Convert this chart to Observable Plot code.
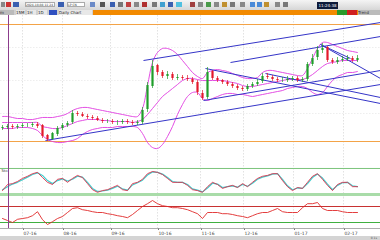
<!DOCTYPE html>
<html><head><meta charset="utf-8">
<script src="https://cdn.jsdelivr.net/npm/d3@7"></script>
<script src="https://cdn.jsdelivr.net/npm/@observablehq/plot@0.6"></script>
<style>
body{margin:0;width:380px;height:240px;overflow:hidden;background:#fff;font-family:"DejaVu Sans",sans-serif;}
#tb{position:relative;height:10px;background:linear-gradient(#f4f4f4,#d6d6d6);overflow:hidden}
#tb span,#tabs span{position:absolute;display:block;font-size:4px;line-height:5px;white-space:nowrap}
#tabs{position:relative;height:5px;background:#d0d0d0;overflow:hidden}
#plots svg{display:block}
#foot{height:4px;background:#d4d4d4;position:relative}
</style></head><body>
<div id="tb">
  <span style="left:1px;top:2px;width:4px;height:5px;background:#888"></span>
  <span style="left:6px;top:2px;width:5px;height:5px;background:#c33"></span>
  <span style="left:13px;top:2px;width:6px;height:5px;background:#3a5fb0"></span>
  <span style="left:25px;top:2px;width:30px;height:5px;background:#fff;border:1px solid #aaa;box-sizing:border-box;color:#333;font-size:3px;line-height:4px">2024-10-08 11:24</span>
  <span style="left:58px;top:2px;width:6px;height:5px;background:#3a5fb0"></span>
  <span style="left:67px;top:2px;width:18px;height:5px;background:#fff;border:1px solid #aaa;box-sizing:border-box;color:#333;font-size:3px;line-height:4px">LP CN</span>
  <span style="left:90px;top:2px;width:5px;height:5px;background:#6a8ac8"></span>
  <span style="left:100px;top:2px;width:5px;height:5px;background:#555"></span>
  <span style="left:110px;top:2px;width:5px;height:5px;background:#3a5fb0"></span>
  <span style="left:118px;top:2px;width:5px;height:5px;background:#777"></span>
  <span style="left:126px;top:2px;width:5px;height:5px;background:#c04040"></span>
  <span style="left:134px;top:2px;width:5px;height:5px;background:#888"></span>
  <span style="left:142px;top:2px;width:5px;height:5px;background:#b03030"></span>
  <span style="left:152px;top:2px;width:5px;height:5px;background:#777"></span>
  <span style="left:160px;top:2px;width:5px;height:5px;background:#40a0d0"></span>
  <span style="left:168px;top:2px;width:5px;height:5px;background:#3a5fb0"></span>
  <span style="left:176px;top:2px;width:6px;height:5px;background:#50c0e0"></span>
  <span style="left:190px;top:2px;width:5px;height:5px;background:#a04040"></span>
  <span style="left:198px;top:2px;width:5px;height:5px;background:#888"></span>
  <span style="left:206px;top:2px;width:5px;height:5px;background:#4a9a4a"></span>
  <span style="left:214px;top:2px;width:5px;height:5px;background:#888"></span>
  <span style="left:222px;top:2px;width:5px;height:5px;background:#c09030"></span>
  <span style="left:230px;top:2px;width:5px;height:5px;background:#777"></span>
  <span style="left:240px;top:2px;width:5px;height:5px;background:#888"></span>
  <span style="left:250px;top:2px;width:5px;height:5px;background:#4a8ad8"></span>
  <span style="left:257px;top:2px;width:5px;height:5px;background:#4a8ad8"></span>
  <span style="left:264px;top:2px;width:5px;height:5px;background:#c09030"></span>
  <span style="left:275px;top:2px;width:5px;height:5px;background:#888"></span>
  <span style="left:283px;top:2px;width:5px;height:5px;background:#777"></span>
  <span style="left:317px;top:2px;width:21px;height:7px;background:#0e1a3a;color:#fff;font-size:4px;line-height:7px;text-align:center">11:24:38</span>
</div>
<div id="tabs">
  <span style="left:0;top:0;width:14px;height:5px;background:#bbb;color:#222">m</span>
  <span style="left:16px;top:0;width:9px;height:5px;background:#e8e8e8;color:#222">15M</span>
  <span style="left:27px;top:0;width:9px;height:5px;background:#e8e8e8;color:#222">1H</span>
  <span style="left:38px;top:0;width:9px;height:5px;background:#e8e8e8;color:#222">1D</span>
  <span style="left:49px;top:0;width:8px;height:5px;background:#3050c0"></span>
  <span style="left:59px;top:0;width:33px;height:5px;background:#e8e8e8;color:#222">Daily Chart</span>
  <span style="left:93px;top:0;width:287px;height:5px;background:#f28a00"></span>
  <span style="left:337px;top:0;width:10px;height:5px;background:#2a9a2a"></span>
  <span style="left:347px;top:0;width:10px;height:5px;background:#d02020"></span>
  <span style="left:358px;top:0;width:22px;height:5px;background:#bbb;color:#333">Trend</span>
</div>
<div id="plots"></div>
<div id="foot"><span style="position:absolute;right:3px;top:0;font-size:3px;line-height:4px;color:#555">0.1s</span></div>
<script>
// ---- price candles (index = trading bar) ----
const open  = [22,23,24,23,24,25,25,26,25,15,11,16,22,25,28,37,36,34,33,32,30,29,29,28,28,29,28,27,28,41,64,85,78,74,76,72,73,72,71,68,57,53,79,72,70,68,66,64,62,61,64,66,69,74,73,71,70,70,71,72,70,71,86,93,100,103,90,88,90,91,92,90];
const close = [23,24,23,24,25,25,26,24,14,11,17,22,25,27,37,36,34,33,32,30,29,29,28,28,29,28,27,28,40,65,84,78,74,76,72,73,72,71,68,58,52,78,72,70,68,66,64,62,61,64,66,68,74,73,71,70,70,71,72,70,71,86,92,100,102,90,88,90,91,92,90,92];
const high  = [25,26,26,26,27,27,28,28,26,16,18,24,27,29,40,39,38,36,35,34,32,31,31,30,31,31,30,30,43,68,90,86,80,79,78,76,75,75,73,70,60,83,80,74,71,70,68,66,64,66,68,71,77,77,75,73,73,74,74,74,73,88,96,104,107,104,92,93,94,95,94,95];
const low   = [20,21,21,21,22,23,23,22,12,9,10,14,20,23,26,34,33,31,30,29,27,27,26,25,26,26,25,25,26,38,62,75,72,71,70,70,70,69,66,55,50,51,70,68,66,64,62,60,59,59,62,64,67,71,69,68,68,68,69,68,68,69,84,90,97,88,86,86,88,89,88,88];
// ---- Bollinger bands ----
const bbUpper = [34,34,33,32,32,31,31,32,33,33,33,34,35,37,40,42,43,43,42,41,40,39,38,37,36,35,34,34,42,65,88,98,102,102,100,96,90,84,78,74,72,78,80,81,80,79,77,75,73,72,72,73,78,80,80,79,78,77,76,75,75,82,92,102,108,108,106,104,102,100,99,98];
const bbMid   = [28,28,28,28,28,28,28,28,24,23,22,22,23,25,27,29,30,31,31,31,30,30,29,29,29,29,28,29,31,36,42,48,54,58,62,66,70,72,72,71,70,70,70,70,70,69,68,67,65,64,64,65,66,67,68,69,70,71,71,71,71,73,76,80,84,87,88,89,90,90,90,90];
const bbLower = [22,22,22,23,23,23,22,20,15,11,9,8,8,9,10,12,16,19,21,22,23,23,23,24,24,24,24,23,17,8,3,2,6,14,24,36,46,54,58,58,52,50,52,54,56,57,57,56,56,55,54,55,56,57,58,59,60,62,63,64,64,62,58,56,58,64,70,74,76,78,78,79];
// ---- trend lines (bar index, price) ----
const tlX1 = [28.2, 45.6, 8.6, 40.2, 40.6, 52.6, 63.6, 63.6];
const tlY1 = [90, 88, 10, 50, 82, 77, 106, 106];
const tlX2 = [75.6, 75.6, 75.6, 75.6, 75.6, 75.6, 75.6, 69.6];
const tlY2 = [128, 114, 66, 80, 47, 53, 72, 92];
// ---- horizontal levels ----
const priceLevels = [126, 9];
// ---- stochastic ----
const stochK = [29,43,45,50,57,62,68,71,59,48,43,55,57,48,57,64,59,45,31,25,29,31,36,41,31,29,45,48,55,68,73,71,66,57,48,48,48,41,31,29,25,38,48,43,34,38,41,36,45,38,48,57,62,64,68,68,52,38,29,36,34,48,62,68,55,41,29,43,48,48,38,38];
const stochD = [31,38,44,48,54,60,66,70,64,52,45,52,56,51,55,62,60,48,34,27,28,30,34,39,33,30,42,47,53,65,72,71,67,59,50,48,48,43,33,30,26,35,46,44,36,38,40,37,43,39,46,55,60,63,67,68,55,40,31,35,34,45,59,67,58,44,31,41,47,48,40,38];
const stochLevels = [80, 20];
// ---- lower oscillator ----
const osc = [40,35,30,38,40,42,47,57,37,25,32,40,45,55,65,67,62,60,57,55,55,52,50,47,45,42,50,60,70,77,85,77,72,70,67,67,65,62,57,52,40,55,55,55,52,52,50,47,45,42,47,52,55,55,60,65,57,55,55,55,67,77,77,80,65,60,60,60,57,55,55,55];
const oscLevels = [70, 30];
// ---- time axis ----
const tickIdx = [4, 12, 21.6, 31, 39.6, 48.2, 58.2, 68.2];
const tickLabels = ["07-16","08-16","09-16","10-16","11-16","12-16","01-17","02-17"];
const cursorIdx = 1.2;

const bars = close.map((c, i) => ({i, o: open[i], c, h: high[i], l: low[i], up: c >= open[i]}));
const seriesRows = (arr) => arr.map((v, i) => ({i, v}));
const trend = tlX1.map((x1, k) => ({x1, y1: tlY1[k], x2: tlX2[k], y2: tlY2[k]}));
const labelMap = new Map(tickIdx.map((d, k) => [d, tickLabels[k]]));
const xDom = [-0.4, 75.6];
const UP = "#1f9e2a", DN = "#e3192b", MAG = "#e03ce0", BLUE = "#3535c8";

const grid = () => Plot.ruleX(tickIdx, {stroke: "#cfcfcf", strokeWidth: 0.6, strokeDasharray: "1.5,1.5"});
const cursor = () => Plot.ruleX([cursorIdx], {stroke: "#8c3c8c", strokeWidth: 1});

const main = Plot.plot({
  width: 380, height: 135, margin: 0,
  x: {domain: xDom, axis: null},
  y: {domain: [0, 135], axis: null},
  marks: [
    Plot.ruleY([37, 70, 103], {stroke: "#e2e2e2", strokeWidth: 0.6, strokeDasharray: "1.5,1.5"}),
    grid(),
    Plot.ruleY(priceLevels, {stroke: "#f3a348", strokeWidth: 1}),
    Plot.line(seriesRows(bbUpper), {x: "i", y: "v", stroke: MAG, strokeWidth: 0.9, curve: "catmull-rom"}),
    Plot.line(seriesRows(bbMid), {x: "i", y: "v", stroke: MAG, strokeWidth: 0.9, curve: "catmull-rom"}),
    Plot.line(seriesRows(bbLower), {x: "i", y: "v", stroke: MAG, strokeWidth: 0.9, curve: "catmull-rom"}),
    Plot.link(trend, {x1: "x1", y1: "y1", x2: "x2", y2: "y2", stroke: BLUE, strokeWidth: 1}),
    Plot.ruleX(bars, {x: "i", y1: "l", y2: "h", stroke: d => d.up ? UP : DN, strokeWidth: 0.7}),
    Plot.ruleX(bars, {x: "i", y1: "o", y2: "c", stroke: d => d.up ? UP : DN, strokeWidth: 2.2}),
    cursor(),
    Plot.ruleY([0], {stroke: "#b8b8b8", strokeWidth: 1})
  ]
});

const stoch = Plot.plot({
  width: 380, height: 47, margin: 0,
  x: {domain: xDom, axis: null},
  y: {domain: [13, 121.5], axis: null},
  marks: [
    grid(),
    Plot.ruleY([stochLevels[0]], {stroke: "#7cc47c", strokeWidth: 1}),
    Plot.ruleY([stochLevels[1]], {stroke: "#a9dca9", strokeWidth: 3}),
    Plot.line(seriesRows(stochD), {x: "i", y: "v", stroke: "#3fd0cf", strokeWidth: 1.2}),
    Plot.line(seriesRows(stochK), {x: "i", y: "v", stroke: "#e0304a", strokeWidth: 0.9}),
    Plot.text(["Sto"], {frameAnchor: "top-left", dx: 1, dy: 19, fontSize: 4, fill: "#333"}),
    cursor(),
    Plot.ruleY([13], {stroke: "#c8c8c8", strokeWidth: 1})
  ]
});

const lower = Plot.plot({
  width: 380, height: 39, marginTop: 0, marginLeft: 0, marginRight: 0, marginBottom: 8,
  x: {domain: xDom},
  y: {domain: [15, 92.5], axis: null},
  style: {fontFamily: "DejaVu Sans", fontSize: "4.5px"},
  marks: [
    grid(),
    Plot.ruleY([oscLevels[0]], {stroke: "#c83232", strokeWidth: 1}),
    Plot.ruleY([oscLevels[1]], {stroke: "#40b040", strokeWidth: 1}),
    Plot.line(seriesRows(osc), {x: "i", y: "v", stroke: "#e02828", strokeWidth: 0.9}),
    cursor(),
    Plot.axisX(tickIdx, {anchor: "bottom", tickSize: 2, tickPadding: 1, textAnchor: "start", dx: 1, fontSize: 4.5, fill: "#444", stroke: "#777", tickFormat: d => labelMap.get(d), label: null}),
    Plot.ruleY([15], {stroke: "#999", strokeWidth: 0.8})
  ]
});

const host = document.getElementById("plots");
host.append(main, stoch, lower);
</script>
</body></html>
